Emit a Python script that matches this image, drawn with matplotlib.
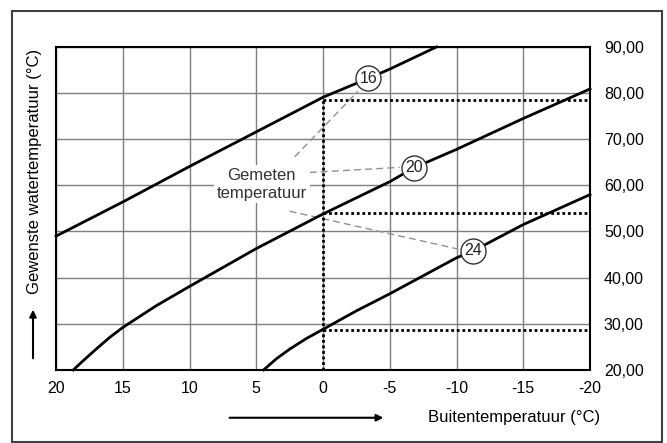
import matplotlib
matplotlib.use("Agg")
import matplotlib.pyplot as plt
from matplotlib.patches import Rectangle

plt.rcParams['font.family'] = ['Liberation Sans Narrow', 'Liberation Sans', 'DejaVu Sans']

# stooklijnen (buitentemperatuur -> gewenste watertemperatuur)
x16 = [20, 15, 10, 5, 0, -3.4, -5, -8.5]
y16 = [49.0, 56.4, 64.1, 71.6, 79.1, 83.2, 85.2, 90.0]
x20 = [18.7, 18, 17, 16, 15, 12.5, 10, 5, 0, -5, -6.8, -10, -15, -20]
y20 = [20.0, 21.9, 24.5, 27.0, 29.2, 33.9, 38.1, 46.3, 53.8, 60.8, 63.8, 67.8, 74.5, 80.9]
x24 = [4.45, 3.5, 2.5, 1.25, 0, -2.5, -5, -10, -11.25, -15, -20]
y24 = [20.0, 22.4, 24.5, 26.8, 28.8, 32.8, 36.5, 44.3, 45.8, 51.5, 58.0]

curve_labels = ['16', '20', '24']
label_x = [-3.4, -6.8, -11.25]
label_y = [83.2, 63.8, 45.8]

# gemeten temperatuur bij 0 graden buiten
meas_x = 0
meas_y = [78.5, 54.0, 28.6]

xticks = [20, 15, 10, 5, 0, -5, -10, -15, -20]
yticks = [20, 30, 40, 50, 60, 70, 80, 90]
ytick_labels = ['20,00', '30,00', '40,00', '50,00', '60,00', '70,00', '80,00', '90,00']

fig = plt.figure(figsize=(6.67, 4.43), dpi=100)
ax = fig.add_axes([0.084, 0.165, 0.8006, 0.729])

ax.set_xlim(20, -20)
ax.set_ylim(20, 90)
ax.set_xticks(xticks)
ax.set_xticklabels([str(t) for t in xticks])
ax.set_yticks(yticks)
ax.set_yticklabels(ytick_labels)
ax.yaxis.tick_right()
ax.tick_params(length=0, labelsize=11.5)
ax.tick_params(axis='x', pad=8)
ax.tick_params(axis='y', pad=10)
ax.grid(True, color='#7f7f7f', lw=1)
for s in ax.spines.values():
    s.set_linewidth(1.5)

# meetlijnen (gestippeld)
ax.plot([meas_x, meas_x], [20, meas_y[0]], color='black', lw=2, ls=(0, (1, 1)), zorder=3)
for yv in meas_y:
    ax.plot([meas_x, -20], [yv, yv], color='black', lw=2, ls=(0, (1, 1)), zorder=3)

for xs, ys in [(x16, y16), (x20, y20), (x24, y24)]:
    ax.plot(xs, ys, color='black', lw=2, zorder=4, clip_on=False)

# verwijslijnen
leaders = [((2.12, 66.2), (-2.62, 80.4)),
           ((1.0, 62.8), (-5.75, 63.9)),
           ((2.5, 54.4), (-10.1, 46.2))]
for (a, b) in leaders:
    ax.plot([a[0], b[0]], [a[1], b[1]], color='#909090', lw=1, ls=(0, (5, 3)), zorder=2)

for lab, lx, ly in zip(curve_labels, label_x, label_y):
    ax.plot(lx, ly, 'o', ms=18, mfc='white', mec='#333333', mew=1, zorder=5)
    ax.text(lx, ly, lab, ha='center', va='center', fontsize=11.5, color='#222222', zorder=6)

ax.text(4.6, 60.2, 'Gemeten\ntemperatuur', ha='center', va='center', fontsize=12,
        linespacing=1.2, color='#333333', zorder=3,
        bbox=dict(facecolor='white', edgecolor='none', pad=2))

fig.text(0.052, 0.614, 'Gewenste watertemperatuur (°C)', rotation=90, ha='center',
         va='center', fontsize=12)
fig.text(0.770, 0.058, 'Buitentemperatuur (°C)', ha='center', va='center', fontsize=12)

fig.patches.append(Rectangle((0.018, 0.003), 0.975, 0.973, transform=fig.transFigure,
                             fill=False, edgecolor='#404040', lw=1.5))
ax.annotate('', xy=(0.0495, 0.307), xytext=(0.0495, 0.185), xycoords='figure fraction',
            arrowprops=dict(arrowstyle='-|>', color='black', lw=1.5, mutation_scale=10))
ax.annotate('', xy=(0.579, 0.057), xytext=(0.340, 0.057), xycoords='figure fraction',
            arrowprops=dict(arrowstyle='-|>', color='black', lw=1.5, mutation_scale=10))

fig.savefig('out.png', dpi=100)
